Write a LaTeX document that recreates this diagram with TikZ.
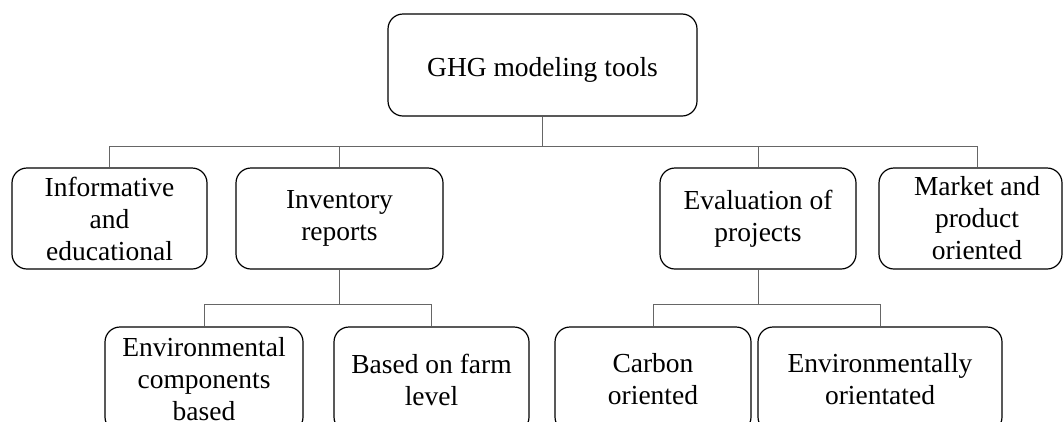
\documentclass[tikz,border=0pt]{standalone}
\usepackage{fontspec}
\setmainfont{Liberation Serif}
\begin{document}
\begin{tikzpicture}[x=1pt,y=-1pt,
  txt/.style={align=center, inner sep=0pt, font=\fontsize{27.5}{32}\selectfont},
  box/.style={txt, draw=black, line width=1.2pt, rounded corners=15pt},
  conn/.style={draw=black!60, line width=1pt}]
\useasboundingbox (0,0) rectangle (1064,421);
\clip (0,0) rectangle (1064,421);
% top
\node[box, minimum width=309pt, minimum height=102pt] (ghg) at (542.5,65) {};
\node[txt] (ghgtext) at (542.5,69.5) {GHG modeling tools};
% second row
\node[box, minimum width=195pt, minimum height=101pt] (info) at (109.5,218.5) {Informative\\and\\educational};
\node[box, minimum width=207pt, minimum height=101pt] (inv) at (339.5,218.5) {Inventory\\reports};
\node[box, minimum width=196pt, minimum height=101pt] (eval) at (758,218.5) {Evaluation of\\projects};
\node[box, minimum width=183pt, minimum height=101pt] (mkt) at (970.5,218.5) {};
\node[txt] (mkttext) at (977,218.5) {Market and\\product\\oriented};
% third row
\node[box, minimum width=198pt, minimum height=105pt] (env) at (204,379.5) {Environmental\\components\\based};
\node[box, minimum width=195pt, minimum height=105pt] (farm) at (431.5,379.5) {Based on farm\\level};
\node[box, minimum width=196pt, minimum height=105pt] (carb) at (653,379.5) {Carbon\\oriented};
\node[box, minimum width=244pt, minimum height=105pt] (envo) at (880,379.5) {Environmentally\\orientated};
% bus levels
\coordinate (busy) at (0,146);
\coordinate (suby) at (0,304);
% top tree
\draw[conn] (ghg.south) -- (ghg.south |- busy);
\draw[conn] (info.north |- busy) -- (mkttext |- busy);
\draw[conn] (info.north) -- (info.north |- busy);
\draw[conn] (inv.north) -- (inv.north |- busy);
\draw[conn] (eval.north) -- (eval.north |- busy);
\draw[conn] (mkttext |- mkt.north) -- (mkttext |- busy);
% inventory subtree
\draw[conn] (inv.south) -- (inv.south |- suby);
\draw[conn] (env.north |- suby) -- (farm.north |- suby);
\draw[conn] (env.north) -- (env.north |- suby);
\draw[conn] (farm.north) -- (farm.north |- suby);
% evaluation subtree
\draw[conn] (eval.south) -- (eval.south |- suby);
\draw[conn] (carb.north |- suby) -- (envo.north |- suby);
\draw[conn] (carb.north) -- (carb.north |- suby);
\draw[conn] (envo.north) -- (envo.north |- suby);
\end{tikzpicture}
\end{document}
